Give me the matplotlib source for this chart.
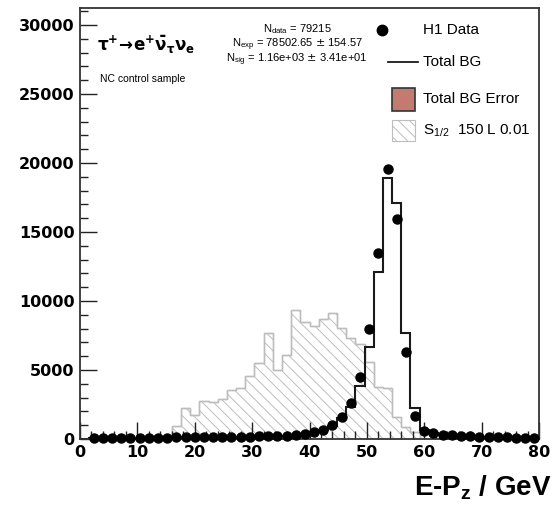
import numpy as np
import matplotlib.pyplot as plt
from matplotlib.lines import Line2D
from matplotlib.patches import Rectangle

# binning of E-Pz (GeV)
x_lo, x_hi, n_bins = 0.0, 80.0, 50

# H1 data per bin (nan = empty bin)
data_counts = [np.nan, 60, 70, 75, 80, 85, 90, 95, 100, 105,
               110, 115, 120, 125, 130, 140, 150, 165, 180, 195,
               210, 230, 250, 290, 360, 530, 650, 1010, 1600, 2590,
               4515, 7950, 13500, 19600, 15920, 6280, 1670, 600, 420, 320,
               260, 220, 190, 170, 150, 130, 115, 100, 85, 70]

# total background expectation
bg_counts = [0, 55, 65, 72, 78, 82, 88, 92, 98, 103,
             108, 112, 118, 123, 128, 136, 146, 160, 175, 190,
             205, 225, 245, 280, 350, 500, 620, 950, 1500, 2300,
             3850, 6690, 12100, 18900, 17100, 7650, 2220, 650, 420, 310,
             260, 220, 190, 165, 145, 125, 110, 95, 80, 65]

# signal S_1/2, 150 L 0.01
sig_counts = [0, 0, 0, 0, 0, 0, 0, 0, 0, 0,
              940, 2220, 1740, 2720, 2650, 2900, 3550, 3730, 4565, 5500,
              7660, 5000, 6090, 9350, 8500, 8200, 8700, 9100, 8030, 7300,
              6900, 5600, 3790, 3670, 1620, 900, 530, 0, 0, 0,
              0, 0, 0, 0, 0, 0, 0, 0, 0, 0]

stats_lines = [r'N$_{\mathregular{data}}$ = 79215',
               r'N$_{\mathregular{exp}}$ = 78502.65 $\pm$ 154.57',
               r'N$_{\mathregular{sig}}$ = 1.16e+03 $\pm$ 3.41e+01']
legend_labels = ['H1 Data', 'Total BG', 'Total BG Error',
                 r'S$_{\mathregular{1/2}}$  150 L 0.01']

W, H = 558, 513
def fx(p):
    return p / W
def fy(p):
    return 1 - p / H

edges = np.linspace(x_lo, x_hi, n_bins + 1)
centers = 0.5 * (edges[1:] + edges[:-1])

fig = plt.figure(figsize=(5.58, 5.13), dpi=100)
ax = fig.add_axes([fx(80), fy(439), fx(539) - fx(80), fy(8) - fy(439)])

hatch_col = '#bdbdbd'
plt.rcParams['hatch.linewidth'] = 0.7
ax.stairs(sig_counts, edges, fill=True, facecolor='white', edgecolor=hatch_col,
          hatch='\\\\\\', linewidth=1.0, zorder=1)
ax.stairs(sig_counts, edges, fill=False, edgecolor=hatch_col, linewidth=1.0, zorder=1)
ax.stairs(bg_counts, edges, color='#1a1a1a', linewidth=1.5, zorder=2)
ax.plot(centers, data_counts, 'o', color='black', ms=6.5, zorder=3, clip_on=False)

ax.set_xlim(x_lo, x_hi)
ax.set_ylim(0, 31230)
ax.set_xticks(np.arange(0, 81, 10))
ax.set_xticks(np.arange(0, 81, 2), minor=True)
ax.set_yticks(np.arange(0, 30001, 5000))
ax.set_yticks(np.arange(0, 31001, 1000), minor=True)
ax.tick_params(which='both', direction='in', top=False, right=False,
               color='#222222', width=1.0)
ax.tick_params(which='major', length=12, pad=4)
ax.tick_params(which='minor', length=6)
for lab in ax.get_xticklabels() + ax.get_yticklabels():
    lab.set_fontfamily('DejaVu Sans')
    lab.set_fontweight('bold')
    lab.set_fontsize(11.5)
for sp in ax.spines.values():
    sp.set_color('#333333')
    sp.set_linewidth(1.3)

fig.text(fx(552), fy(495), r'E-P$_{\mathregular{z}}$ / GeV', ha='right', va='baseline',
         family='Liberation Sans', weight='bold', fontsize=20)

fig.text(fx(97), fy(45), r'$\mathbf{\tau^{+}\!\rightarrow\! e^{+}\bar{\nu}_{\tau}\nu_{e}}$',
         ha='left', va='center', fontsize=12)
fig.text(fx(100), fy(79), 'NC control sample', ha='left', va='center',
         family='Liberation Sans', fontsize=7.5)
for s, yp in zip(stats_lines, [29, 45, 60]):
    fig.text(fx(297), fy(yp), s, ha='center', va='center',
             family='Liberation Sans', fontsize=8)

# legend drawn by hand, ROOT style
fig.add_artist(Line2D([fx(382)], [fy(30)], transform=fig.transFigure, marker='o',
                      ms=7.5, color='black', linestyle='none'))
fig.add_artist(Line2D([fx(388), fx(418)], [fy(62), fy(62)], transform=fig.transFigure,
                      color='#1a1a1a', lw=1.3))
fig.add_artist(Rectangle((fx(392), fy(111)), fx(415) - fx(392), fy(88) - fy(111),
                         transform=fig.transFigure, facecolor='#c27b6e',
                         edgecolor='#333333', lw=1.2))
fig.add_artist(Rectangle((fx(392), fy(141)), fx(415) - fx(392), fy(120) - fy(141),
                         transform=fig.transFigure, facecolor='white',
                         edgecolor=hatch_col, hatch='\\\\\\', lw=0.8))
for s, yp in zip(legend_labels, [30, 62, 99, 131]):
    fig.text(fx(423), fy(yp), s, ha='left', va='center',
             family='Liberation Sans', fontsize=11)

fig.savefig('out.png', dpi=100)
